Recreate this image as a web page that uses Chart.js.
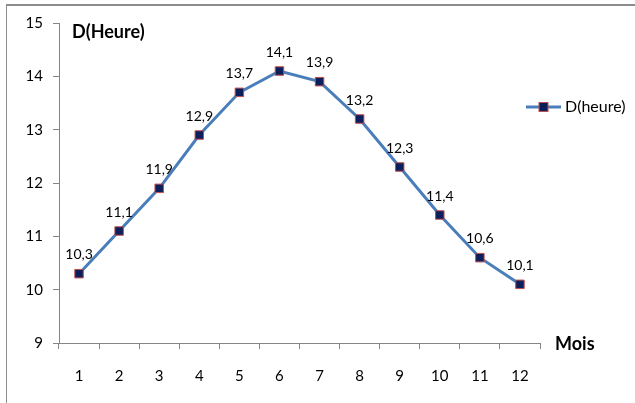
<!DOCTYPE html>
<html>
<head>
<meta charset="utf-8">
<script src="https://cdn.jsdelivr.net/npm/chart.js@4"></script>
<style>
  html, body { margin: 0; padding: 0; background: #fff; }
  #wrap { position: relative; width: 635px; height: 403px; }
  #frame { position: absolute; left: 6px; top: 4px; right: -2px; bottom: -2px; border-left: 1px solid #8c8c8c; border-top: 2px solid #8c8c8c; }
  canvas { position: absolute; left: 0; top: 0; }
</style>
</head>
<body>
<div id="wrap">
  <div id="frame"></div>
  <canvas id="chart" width="635" height="403"></canvas>
</div>
<script>
// données
const mois = ['1', '2', '3', '4', '5', '6', '7', '8', '9', '10', '11', '12'];
const dureeJour = [10.3, 11.1, 11.9, 12.9, 13.7, 14.1, 13.9, 13.2, 12.3, 11.4, 10.6, 10.1];
const serieNom = 'D(heure)';
const titreY = 'D(Heure)';
const titreX = 'Mois';

const font = 'Lato, "Open Sans", sans-serif';
const lineColor = '#4a7ebb';
const markerFill = '#0b1f5c';
const markerBorder = '#c0504d';

const extras = {
    id: 'extras',
    afterDatasetsDraw(chart) {
        const ctx = chart.ctx;
        const meta = chart.getDatasetMeta(0);
        const area = chart.chartArea;
        ctx.save();

        // étiquettes des valeurs
        ctx.fillStyle = '#000';
        ctx.font = '14px ' + font;
        ctx.textAlign = 'center';
        ctx.textBaseline = 'middle';
        meta.data.forEach((pt, i) => {
            ctx.fillText(dureeJour[i].toString().replace('.', ','), pt.x, pt.y - 19);
        });

        // titres des axes
        ctx.font = 'bold 18px ' + font;
        ctx.textAlign = 'left';
        ctx.fillText(titreY, area.left + 13, area.top + 9);
        ctx.fillText(titreX, area.right + 15, area.bottom + 1);

        // légende
        const ly = 107;
        ctx.strokeStyle = lineColor;
        ctx.lineWidth = 3;
        ctx.beginPath();
        ctx.moveTo(526, ly);
        ctx.lineTo(561, ly);
        ctx.stroke();
        ctx.fillStyle = markerFill;
        ctx.strokeStyle = markerBorder;
        ctx.lineWidth = 1;
        ctx.fillRect(539, ly - 4.5, 9, 9);
        ctx.strokeRect(539, ly - 4.5, 9, 9);
        ctx.fillStyle = '#000';
        ctx.font = '16px ' + font;
        ctx.fillText(serieNom, 565, ly);
        ctx.restore();
    }
};

new Chart(document.getElementById('chart'), {
    type: 'line',
    data: {
        labels: mois,
        datasets: [{
            label: serieNom,
            data: dureeJour,
            borderColor: lineColor,
            borderWidth: 3,
            pointStyle: 'rect',
            pointRadius: 6,
            pointHoverRadius: 6,
            pointBackgroundColor: markerFill,
            pointBorderColor: markerBorder,
            pointBorderWidth: 1,
            tension: 0
        }]
    },
    options: {
        responsive: false,
        animation: false,
        layout: { padding: { left: 0, right: 95, top: 23, bottom: 0 } },
        plugins: {
            legend: { display: false },
            tooltip: { enabled: false }
        },
        scales: {
            x: {
                offset: true,
                grid: { display: true, offset: true, drawOnChartArea: false, drawTicks: true, tickLength: 6, color: '#868686' },
                border: { color: '#868686', width: 1 },
                ticks: { color: '#000', font: { family: font, size: 15 }, padding: 18, maxRotation: 0 },
                afterFit(scale) { scale.height = 60; }
            },
            y: {
                min: 9,
                max: 15,
                grid: { display: true, drawOnChartArea: false, drawTicks: true, tickLength: 6, color: '#868686' },
                border: { color: '#868686', width: 1 },
                ticks: { stepSize: 1, color: '#000', font: { family: font, size: 15 }, padding: 10 },
                afterFit(scale) { scale.width = 59; }
            }
        }
    },
    plugins: [extras]
});
</script>
</body>
</html>
